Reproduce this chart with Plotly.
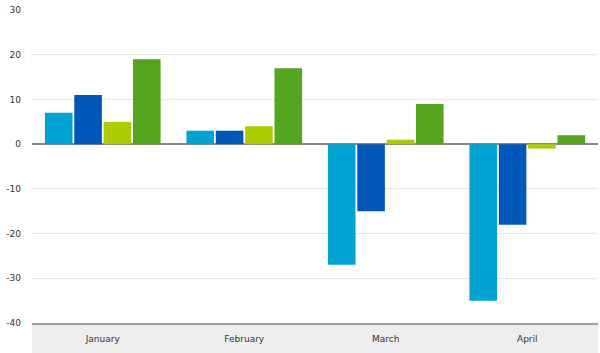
import plotly.graph_objects as go

categories = ["January", "February", "March", "April"]
series_a = [7, 3, -27, -35]
series_b = [11, 3, -15, -18]
series_c = [5, 4, 1, -1]
series_d = [19, 17, 9, 2]
colors = ["#00A3D1", "#0057B8", "#AACC00", "#55A51E"]
y_ticks = [30, 20, 10, 0, -10, -20, -30, -40]
y_tick_labels = [str(v) for v in y_ticks]

fig = go.Figure()
for vals, col, name in zip([series_a, series_b, series_c, series_d], colors, ["A", "B", "C", "D"]):
    fig.add_trace(go.Bar(x=categories, y=vals, name=name, marker=dict(color=col, line=dict(width=0))))

fig.update_layout(
    width=600, height=353,
    margin=dict(l=32, r=2, t=10, b=30),
    paper_bgcolor="white", plot_bgcolor="white",
    barmode="group", bargap=0.17, bargroupgap=0.06,
    showlegend=False,
    font=dict(family="DejaVu Sans", size=9, color="#333"),
    shapes=[dict(type="rect", xref="paper", yref="paper", x0=0, x1=1, y0=-30/313, y1=0,
                 fillcolor="#eeeeee", line=dict(width=0), layer="below")],
)
fig.update_xaxes(showline=True, linecolor="#a0a0a0", linewidth=2, showgrid=False,
                 ticks="", ticklabelstandoff=6, tickfont=dict(size=9, color="#333"))
fig.update_yaxes(range=[-40, 30], tickvals=y_ticks, ticktext=y_tick_labels,
                 showgrid=True, gridcolor="#e6e6e6", gridwidth=1,
                 zeroline=True, zerolinecolor="#888888", zerolinewidth=2,
                 ticks="", ticklabelstandoff=10, tickfont=dict(size=9, color="#333"))

fig.write_html("out.html")
